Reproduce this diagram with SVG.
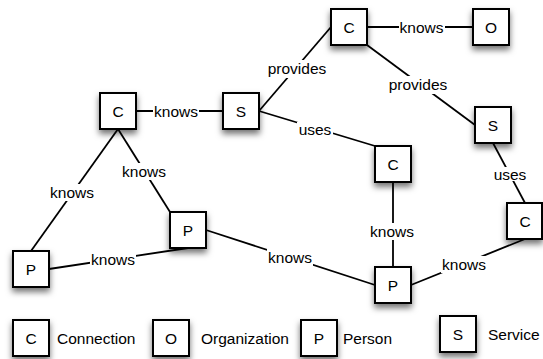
<svg xmlns="http://www.w3.org/2000/svg" width="543" height="359" viewBox="0 0 543 359">
<defs>
<filter id="sh" x="-50%" y="-50%" width="200%" height="200%">
<feDropShadow dx="0" dy="4" stdDeviation="3" flood-color="#000" flood-opacity="0.55"/>
</filter>
<style>
.box{fill:#fff;stroke:#000;stroke-width:2;filter:url(#sh)}
.t{font-family:"Liberation Sans",Arial,sans-serif;font-size:15.5px;fill:#000;text-anchor:middle}
.lt{font-family:"Liberation Sans",Arial,sans-serif;font-size:15.5px;fill:#000}
.e{stroke:#000;stroke-width:1.8;fill:none}
.bg{fill:#fff}
</style>
</defs>
<rect width="543" height="359" fill="#fff"/>
<g id="connectors">
<g><line class="e" x1="136" y1="111" x2="223" y2="111"/><rect class="bg" x="153" y="103" width="46" height="17"/><text class="t" x="176" y="117">knows</text></g>
<g><line class="e" x1="259" y1="111" x2="331" y2="27"/><rect class="bg" x="266" y="60" width="62" height="18"/><text class="t" x="297" y="74">provides</text></g>
<g><line class="e" x1="367" y1="27" x2="473" y2="27"/><rect class="bg" x="399" y="20" width="46" height="17"/><text class="t" x="421.5" y="33">knows</text></g>
<g><line class="e" x1="367" y1="45" x2="475" y2="125"/><rect class="bg" x="387" y="76" width="62" height="18"/><text class="t" x="418" y="90">provides</text></g>
<g><line class="e" x1="259" y1="111" x2="375" y2="146"/><rect class="bg" x="297" y="122" width="36" height="14"/><text class="t" x="315" y="135">uses</text></g>
<g><line class="e" x1="493" y1="143" x2="525" y2="203"/><rect class="bg" x="492" y="167" width="36" height="14"/><text class="t" x="510" y="180">uses</text></g>
<g><line class="e" x1="393" y1="182" x2="393" y2="267"/><rect class="bg" x="369" y="223" width="46" height="17"/><text class="t" x="392" y="237">knows</text></g>
<g><line class="e" x1="411" y1="285" x2="525" y2="239"/><rect class="bg" x="441" y="256" width="46" height="17"/><text class="t" x="464" y="270">knows</text></g>
<g><line class="e" x1="206" y1="230" x2="375" y2="285"/><rect class="bg" x="267" y="249" width="46" height="17"/><text class="t" x="290" y="263">knows</text></g>
<g><line class="e" x1="49" y1="269" x2="188" y2="248"/><rect class="bg" x="90" y="251" width="46" height="17"/><text class="t" x="113" y="265">knows</text></g>
<g><line class="e" x1="118" y1="129" x2="31" y2="251"/><rect class="bg" x="49" y="184" width="46" height="17"/><text class="t" x="72" y="198">knows</text></g>
<g><line class="e" x1="118" y1="129" x2="170" y2="212"/><rect class="bg" x="121" y="163" width="46" height="17"/><text class="t" x="144" y="177">knows</text></g>
</g>
<g id="c1"><rect class="box" x="100" y="93" width="36" height="36"/><text class="t" x="118" y="117">C</text></g>
<g id="s1"><rect class="box" x="223" y="93" width="36" height="36"/><text class="t" x="241" y="117">S</text></g>
<g id="c2"><rect class="box" x="331" y="9" width="36" height="36"/><text class="t" x="349" y="33">C</text></g>
<g id="o1"><rect class="box" x="473" y="9" width="36" height="36"/><text class="t" x="491" y="33">O</text></g>
<g id="s2"><rect class="box" x="475" y="107" width="36" height="36"/><text class="t" x="493" y="131">S</text></g>
<g id="c3"><rect class="box" x="375" y="146" width="36" height="36"/><text class="t" x="393" y="170">C</text></g>
<g id="c4"><rect class="box" x="507" y="203" width="35" height="36"/><text class="t" x="525" y="227">C</text></g>
<g id="p1"><rect class="box" x="13" y="251" width="36" height="36"/><text class="t" x="31" y="275">P</text></g>
<g id="p2"><rect class="box" x="170" y="212" width="36" height="36"/><text class="t" x="188" y="236">P</text></g>
<g id="p3"><rect class="box" x="375" y="267" width="36" height="36"/><text class="t" x="393" y="291">P</text></g>
<g id="legend-c"><rect class="box" x="13" y="320" width="36" height="36"/><text class="t" x="31" y="344">C</text><text class="lt" x="57" y="344">Connection</text></g>
<g id="legend-o"><rect class="box" x="153" y="320" width="36" height="36"/><text class="t" x="171" y="344">O</text><text class="lt" x="201" y="344">Organization</text></g>
<g id="legend-p"><rect class="box" x="301" y="320" width="36" height="36"/><text class="t" x="319" y="344">P</text><text class="lt" x="343" y="344">Person</text></g>
<g id="legend-s"><rect class="box" x="440" y="316" width="36" height="36"/><text class="t" x="458" y="340">S</text><text class="lt" x="488" y="340">Service</text></g>
</svg>
